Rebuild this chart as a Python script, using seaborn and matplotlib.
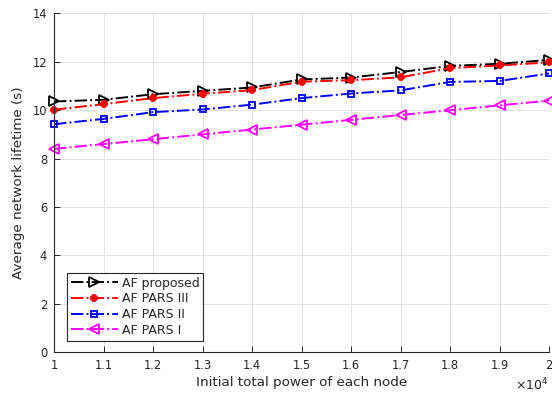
import matplotlib
matplotlib.use('Agg')
import matplotlib.pyplot as plt
import matplotlib.ticker as mticker
import seaborn as sns

# Data
power = [10000, 11000, 12000, 13000, 14000, 15000, 16000, 17000, 18000, 19000, 20000]
af_proposed = [10.36, 10.43, 10.66, 10.80, 10.94, 11.27, 11.35, 11.58, 11.83, 11.92, 12.08]
af_pars_3 = [10.02, 10.25, 10.50, 10.68, 10.83, 11.18, 11.24, 11.36, 11.74, 11.85, 11.98]
af_pars_2 = [9.42, 9.64, 9.92, 10.03, 10.23, 10.50, 10.69, 10.82, 11.17, 11.21, 11.52]
af_pars_1 = [8.40, 8.60, 8.80, 9.00, 9.20, 9.40, 9.60, 9.80, 10.00, 10.20, 10.40]

series_names = ['AF proposed', 'AF PARS III', 'AF PARS II', 'AF PARS I']

sns.set_style('ticks')
plt.rcParams['font.family'] = ['DejaVu Sans']
plt.rcParams['mathtext.default'] = 'regular'

fig = plt.figure(figsize=(5.52, 3.96), dpi=100)
ax = fig.add_axes([0.0978, 0.111, 0.897, 0.855])

# Draw each series with MATLAB-like dash-dot style
styles = [
    (af_proposed, 'black', '>', 6.5, 'none'),
    (af_pars_3, 'red', '8', 5.2, 'red'),
    (af_pars_2, 'blue', 's', 4.5, 'none'),
    (af_pars_1, 'magenta', '<', 7, 'none'),
]
for name, (vals, col, mk, ms, fc) in zip(series_names, styles):
    sns.lineplot(x=power, y=vals, ax=ax, color=col, marker=mk, markersize=ms,
                 markerfacecolor=fc, markeredgecolor=col, markeredgewidth=1.3,
                 linestyle='-.', linewidth=1.4, label=name, clip_on=False)

ax.set_xlim(10000, 20000)
ax.set_ylim(0, 14)
ax.set_xticks(power)
ax.set_yticks(range(0, 15, 2))
ax.xaxis.set_major_formatter(mticker.FuncFormatter(lambda v, p: f'{v / 1e4:g}'))
ax.grid(True, color='#e3e3e3', linewidth=0.7)
ax.set_axisbelow(True)

for side in ['top', 'right']:
    ax.spines[side].set_visible(False)
for side in ['left', 'bottom']:
    ax.spines[side].set_color('#262626')
    ax.spines[side].set_linewidth(0.8)
ax.tick_params(direction='in', length=4, width=0.7, colors='#262626', labelsize=8.3, pad=5)

ax.set_xlabel('Initial total power of each node', fontsize=9.7, color='#262626', labelpad=3)
ax.set_ylabel('Average network lifetime (s)', fontsize=9.7, color='#262626', labelpad=5)

fig.text(0.993, 0.008, r'$\times10^{4}$', ha='right', va='bottom', fontsize=9, color='#262626')

leg = ax.legend(loc='lower left', bbox_to_anchor=(0.026, 0.034), fontsize=9,
                handlelength=3.8, handletextpad=0.3, labelspacing=0.22,
                borderpad=0.3, borderaxespad=0, fancybox=False, framealpha=1)
leg.get_frame().set_edgecolor('#262626')
leg.get_frame().set_linewidth(0.8)

plt.savefig('out.png', dpi=100)
